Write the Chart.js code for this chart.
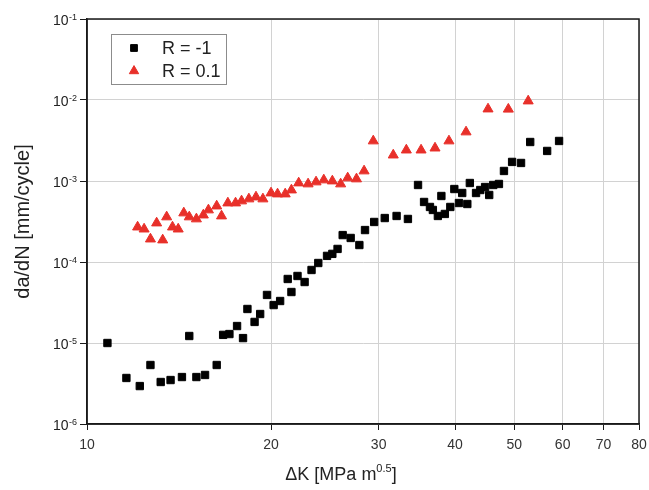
<!DOCTYPE html>
<html>
<head>
<meta charset="utf-8">
<script src="https://cdn.jsdelivr.net/npm/chart.js@4"></script>
<style>
  body { margin: 0; background: #fff; }
</style>
</head>
<body>
<canvas id="crackChart" width="649" height="490"></canvas>
<script>
// Data (ΔK in MPa m^0.5, da/dN in mm/cycle)
const kMinus1 = [10.8, 11.6, 12.2, 12.7, 13.2, 13.7, 14.3, 14.7, 15.1, 15.6, 16.3, 16.7, 17.1, 17.6, 18.0,
  18.3, 18.8, 19.2, 19.7, 20.2, 20.7, 21.3, 21.6, 22.1, 22.7, 23.3, 23.9, 24.7, 25.2, 25.7, 26.2, 27.0,
  27.9, 28.5, 29.5, 30.7, 32.1, 33.5, 34.8, 35.6, 36.4, 36.8, 37.5, 38.0, 38.5, 39.3, 39.9, 40.6, 41.1,
  41.9, 42.3, 43.3, 44.0, 44.8, 45.5, 46.2, 47.2, 48.1, 49.6, 51.3, 53.1, 56.6, 59.2];
const rateMinus1 = [1.0e-5, 3.7e-6, 2.94e-6, 5.35e-6, 3.3e-6, 3.49e-6, 3.8e-6, 1.22e-5, 3.8e-6, 4.03e-6,
  5.35e-6, 1.26e-5, 1.29e-5, 1.62e-5, 1.15e-5, 2.63e-5, 1.82e-5, 2.28e-5, 3.92e-5, 2.94e-5, 3.3e-5,
  6.17e-5, 4.26e-5, 6.72e-5, 5.66e-5, 7.97e-5, 9.72e-5, 1.19e-4, 1.26e-4, 1.45e-4, 2.15e-4, 1.98e-4,
  1.62e-4, 2.48e-4, 3.12e-4, 3.49e-4, 3.7e-4, 3.4e-4, 8.93e-4, 5.51e-4, 4.78e-4, 4.39e-4, 3.7e-4,
  6.53e-4, 3.92e-4, 4.78e-4, 7.96e-4, 5.35e-4, 7.11e-4, 5.2e-4, 9.45e-4, 7.11e-4, 7.74e-4, 8.43e-4,
  6.72e-4, 8.93e-4, 9.19e-4, 1.33e-3, 1.72e-3, 1.67e-3, 3.03e-3, 2.35e-3, 3.12e-3];

const kR01 = [12.1, 12.4, 12.7, 13.0, 13.3, 13.5, 13.8, 14.1, 14.4, 14.7, 15.1, 15.5, 15.8, 16.3, 16.6,
  17.0, 17.5, 17.9, 18.4, 18.9, 19.4, 20.0, 20.5, 21.1, 21.6, 22.2, 23.0, 23.7, 24.4, 25.2, 26.0, 26.7,
  27.6, 28.4, 29.4, 31.7, 33.3, 35.2, 37.1, 39.1, 41.7, 45.3, 48.9, 52.7];
const rateR01 = [2.70e-4, 2.55e-4, 1.92e-4, 3.03e-4, 1.87e-4, 3.60e-4, 2.70e-4, 2.55e-4, 4.03e-4, 3.60e-4,
  3.40e-4, 3.80e-4, 4.39e-4, 4.91e-4, 3.70e-4, 5.35e-4, 5.35e-4, 5.67e-4, 6.00e-4, 6.34e-4, 6.00e-4,
  7.11e-4, 6.91e-4, 6.91e-4, 7.74e-4, 9.45e-4, 9.19e-4, 9.73e-4, 1.03e-3, 1.0e-3, 9.19e-4, 1.09e-3,
  1.06e-3, 1.33e-3, 3.12e-3, 2.09e-3, 2.41e-3, 2.41e-3, 2.55e-3, 3.12e-3, 4.03e-3, 7.74e-3, 7.7e-3, 9.72e-3];

const seriesLabels = ['R = -1', 'R = 0.1'];
const xTicks = [10, 20, 30, 40, 50, 60, 70, 80];
const yExponents = [-6, -5, -4, -3, -2, -1];

const FONT = '"Liberation Sans", Arial, sans-serif';
const TEXT_COLOR = '#222';
const AXIS_COLOR = '#1a1a1a';
const GRID_COLOR = '#d2d2d2';
const BLACK = '#000000';
const RED = '#e8302a';

function toPoints(xs, ys) {
  return xs.map((x, i) => ({ x: x, y: ys[i] }));
}

// Frame, superscript tick labels, axis titles and the boxed legend
const axisText = {
  id: 'axisText',
  afterDraw(chart) {
    const { ctx, chartArea: area, scales } = chart;
    ctx.save();

    ctx.strokeStyle = AXIS_COLOR;
    ctx.lineWidth = 1.5;
    ctx.strokeRect(area.left, area.top, area.right - area.left, area.bottom - area.top);

    // y tick labels: "10" with raised exponent
    ctx.fillStyle = TEXT_COLOR;
    ctx.textAlign = 'left';
    ctx.textBaseline = 'alphabetic';
    yExponents.forEach(e => {
      const py = scales.y.getPixelForValue(Math.pow(10, e));
      const sup = String(e);
      ctx.font = '9px ' + FONT;
      const supW = ctx.measureText(sup).width;
      ctx.font = '14px ' + FONT;
      const baseW = ctx.measureText('10').width;
      const right = area.left - 10;
      ctx.fillText('10', right - supW - baseW - 0.5, py + 6);
      ctx.font = '9px ' + FONT;
      ctx.fillText(sup, right - supW, py + 1);
    });

    // x axis title with superscript 0.5
    const parts = [
      { t: '\u0394K [MPa m', f: '18px ' + FONT, dy: 0 },
      { t: '0.5', f: '11px ' + FONT, dy: -8 },
      { t: ']', f: '18px ' + FONT, dy: 0 }
    ];
    let total = 0;
    parts.forEach(p => { ctx.font = p.f; p.w = ctx.measureText(p.t).width; total += p.w; });
    let tx = (area.left + area.right) / 2 - 22 - total / 2;
    const baseY = area.bottom + 56;
    parts.forEach(p => {
      ctx.font = p.f;
      ctx.fillText(p.t, tx, baseY + p.dy);
      tx += p.w;
    });

    // y axis title
    ctx.save();
    ctx.translate(23, (area.top + area.bottom) / 2);
    ctx.rotate(-Math.PI / 2);
    ctx.textAlign = 'center';
    ctx.textBaseline = 'middle';
    ctx.font = '20px ' + FONT;
    ctx.fillText('da/dN [mm/cycle]', 0, 0);
    ctx.restore();

    // legend box
    const bx = area.left + 24, by = area.top + 15;
    ctx.fillStyle = '#fff';
    ctx.fillRect(bx, by, 115, 50);
    ctx.strokeStyle = '#8c8c8c';
    ctx.lineWidth = 1;
    ctx.strokeRect(bx + 0.5, by + 0.5, 115, 50);
    chart.data.datasets.forEach((ds, i) => {
      const ry = by + 14 + i * 23;
      ctx.fillStyle = ds.backgroundColor;
      ctx.strokeStyle = ds.borderColor;
      ctx.lineWidth = 1;
      Chart.helpers.drawPoint(ctx, { pointStyle: ds.pointStyle, radius: ds.pointRadius - 0.4, rotation: 0, borderWidth: 1 }, bx + 23, ry);
      ctx.fillStyle = TEXT_COLOR;
      ctx.font = '18px ' + FONT;
      ctx.textAlign = 'left';
      ctx.textBaseline = 'middle';
      ctx.fillText(ds.label, bx + 51, ry + 1);
    });

    ctx.restore();
  }
};

const ctx = document.getElementById('crackChart').getContext('2d');
const crackChart = new Chart(ctx, {
  type: 'scatter',
  data: {
    datasets: [
      {
        label: seriesLabels[0],
        data: toPoints(kMinus1, rateMinus1),
        pointStyle: 'rect',
        pointRadius: 5.2,
        backgroundColor: BLACK,
        borderColor: BLACK,
        borderWidth: 1
      },
      {
        label: seriesLabels[1],
        data: toPoints(kR01, rateR01),
        pointStyle: 'triangle',
        pointRadius: 5.8,
        backgroundColor: RED,
        borderColor: RED,
        borderWidth: 1
      }
    ]
  },
  options: {
    responsive: false,
    animation: false,
    layout: { autoPadding: false, padding: { top: 19, right: 10, left: 0, bottom: 0 } },
    plugins: {
      legend: { display: false },
      tooltip: { enabled: false }
    },
    scales: {
      x: {
        type: 'logarithmic',
        min: 10,
        max: 80,
        afterBuildTicks: s => { s.ticks = xTicks.map(v => ({ value: v })); },
        afterFit: s => { s.height = 66; s.paddingLeft = 0; s.paddingRight = 0; },
        grid: { color: GRID_COLOR, lineWidth: 1, drawTicks: true, tickLength: 6, tickColor: AXIS_COLOR },
        border: { display: true, color: AXIS_COLOR, width: 1.5 },
        ticks: {
          autoSkip: false,
          maxRotation: 0,
          padding: 7,
          color: '#333',
          font: { family: FONT, size: 14 },
          callback: v => String(v)
        }
      },
      y: {
        type: 'logarithmic',
        min: 1e-6,
        max: 1e-1,
        afterBuildTicks: s => { s.ticks = yExponents.map(e => ({ value: Math.pow(10, e) })); },
        afterFit: s => { s.width = 87; s.paddingTop = 0; s.paddingBottom = 0; },
        grid: { color: GRID_COLOR, lineWidth: 1, drawTicks: true, tickLength: 7, tickColor: AXIS_COLOR },
        border: { display: true, color: AXIS_COLOR, width: 1.5 },
        ticks: { display: false }
      }
    }
  },
  plugins: [axisText]
});
</script>
</body>
</html>
